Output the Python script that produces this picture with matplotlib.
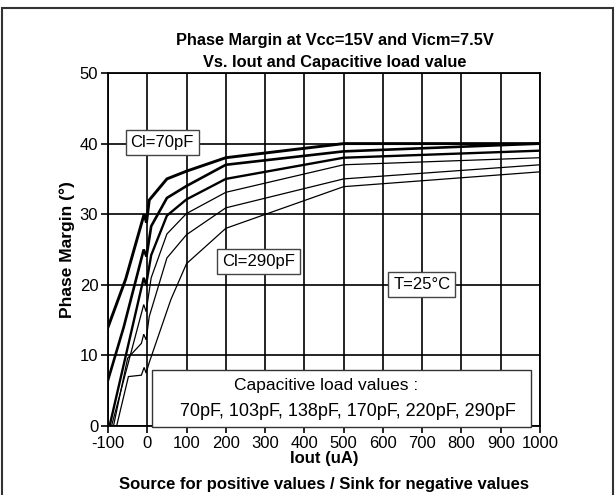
import matplotlib
matplotlib.use("Agg")
import matplotlib.pyplot as plt
from matplotlib.patches import Rectangle

plt.rcParams['font.family'] = ['Liberation Sans', 'DejaVu Sans']

# ---- data ----
cap_labels = ["70pF", "103pF", "138pF", "170pF", "220pF", "290pF"]

x_70 = [-100, -55, -8, -2, 5, 50, 100, 200, 500, 1000]
y_70 = [14, 20.8, 30, 28.8, 32, 35, 36.1, 38, 40, 40]

x_103 = [-100, -60, -9, -2, 10, 50, 100, 200, 500, 1000]
y_103 = [6.5, 14, 25, 24, 28.3, 32.3, 34, 37, 38.9, 40]

x_138 = [-96, -9, -3, 10, 50, 100, 200, 500, 1000]
y_138 = [0, 21, 20, 24.2, 29.8, 32.1, 35, 38, 39]

x_170 = [-91, -9, -3, 10, 50, 100, 200, 500, 1000]
y_170 = [0, 17.2, 16.2, 21, 27.2, 30.1, 33.1, 37, 38]

x_220 = [-86, -50, -15, -9, -3, 5, 50, 100, 200, 500, 1000]
y_220 = [0, 9.6, 11.7, 13, 12.2, 15.5, 23.8, 27.1, 30.9, 35, 37]

x_290 = [-78, -48, -15, -8, -3, 5, 60, 100, 200, 500, 1000]
y_290 = [0, 7, 7.2, 8.3, 7.5, 9, 17.9, 23, 28, 33.9, 36]

series_x = [x_70, x_103, x_138, x_170, x_220, x_290]
series_y = [y_70, y_103, y_138, y_170, y_220, y_290]
line_widths = [2.1, 1.9, 1.7, 0.9, 0.9, 0.9]

x_ticks = [-100, 0, 100, 200, 300, 400, 500, 600, 700, 800, 900, 1000]
y_ticks = [0, 10, 20, 30, 40, 50]

# ---- figure ----
fig = plt.figure(figsize=(6.15, 4.95), dpi=100)
ax = fig.add_axes([108/615, 1 - 426/495, (540-108)/615, (426-73)/495])

for xs, ys, lw in zip(series_x, series_y, line_widths):
    ax.plot(xs, ys, color='black', lw=lw, solid_joinstyle='miter', zorder=3)

ax.set_xlim(-100, 1000)
ax.set_ylim(0, 50)
ax.set_xticks(x_ticks)
ax.set_yticks(y_ticks)
ax.set_xticklabels([str(v) for v in x_ticks], fontsize=12)
ax.set_yticklabels([str(v) for v in y_ticks], fontsize=12)
ax.tick_params(direction='out', length=5, width=1.2, color='black', pad=2)
ax.grid(True, color='black', lw=1.2, zorder=1)
for s in ax.spines.values():
    s.set_linewidth(1.3)
    s.set_color('black')

ax.set_ylabel("Phase Margin (°)", fontsize=12.5, fontweight='bold', labelpad=3)

# annotation boxes
bbox_style = dict(boxstyle='square,pad=0.3', fc='white', ec='#444444', lw=1)
ax.text(38, 40.1, "Cl=70pF", fontsize=12, ha='center', va='center', bbox=bbox_style, zorder=5)
ax.text(283, 23.3, "Cl=290pF", fontsize=12, ha='center', va='center', bbox=bbox_style, zorder=5)
ax.text(699, 20.1, "T=25°C", fontsize=12, ha='center', va='center', bbox=bbox_style, zorder=5)

ax.add_patch(Rectangle((12, -0.2), 966, 8.1, fc='white', ec='#333333', lw=1, zorder=4, clip_on=False))
ax.text(455, 5.8, "Capacitive load values :", fontsize=12.5, ha='center', va='center', zorder=5)
ax.text(510, 2.0, ", ".join(cap_labels), fontsize=13, ha='center', va='center', zorder=5)

# titles and labels
fig.text(335/615, 1 - 40/495, "Phase Margin at Vcc=15V and Vicm=7.5V", fontsize=11.8,
         fontweight='bold', ha='center', va='center')
fig.text(335/615, 1 - 63/495, "Vs. Iout and Capacitive load value", fontsize=11.8,
         fontweight='bold', ha='center', va='center')
fig.text(324/615, 1 - 459/495, "Iout (uA)", fontsize=12, fontweight='bold',
         ha='center', va='center')
fig.text(324/615, 1 - 485/495, "Source for positive values / Sink for negative values",
         fontsize=12, fontweight='bold', ha='center', va='center')

# outer frame
fig.add_artist(Rectangle((2/615, -0.01), 611/615, 1 - 8/495 + 0.01, transform=fig.transFigure,
                         fill=False, ec='#333333', lw=1.5))

fig.savefig("out.png", dpi=100)
